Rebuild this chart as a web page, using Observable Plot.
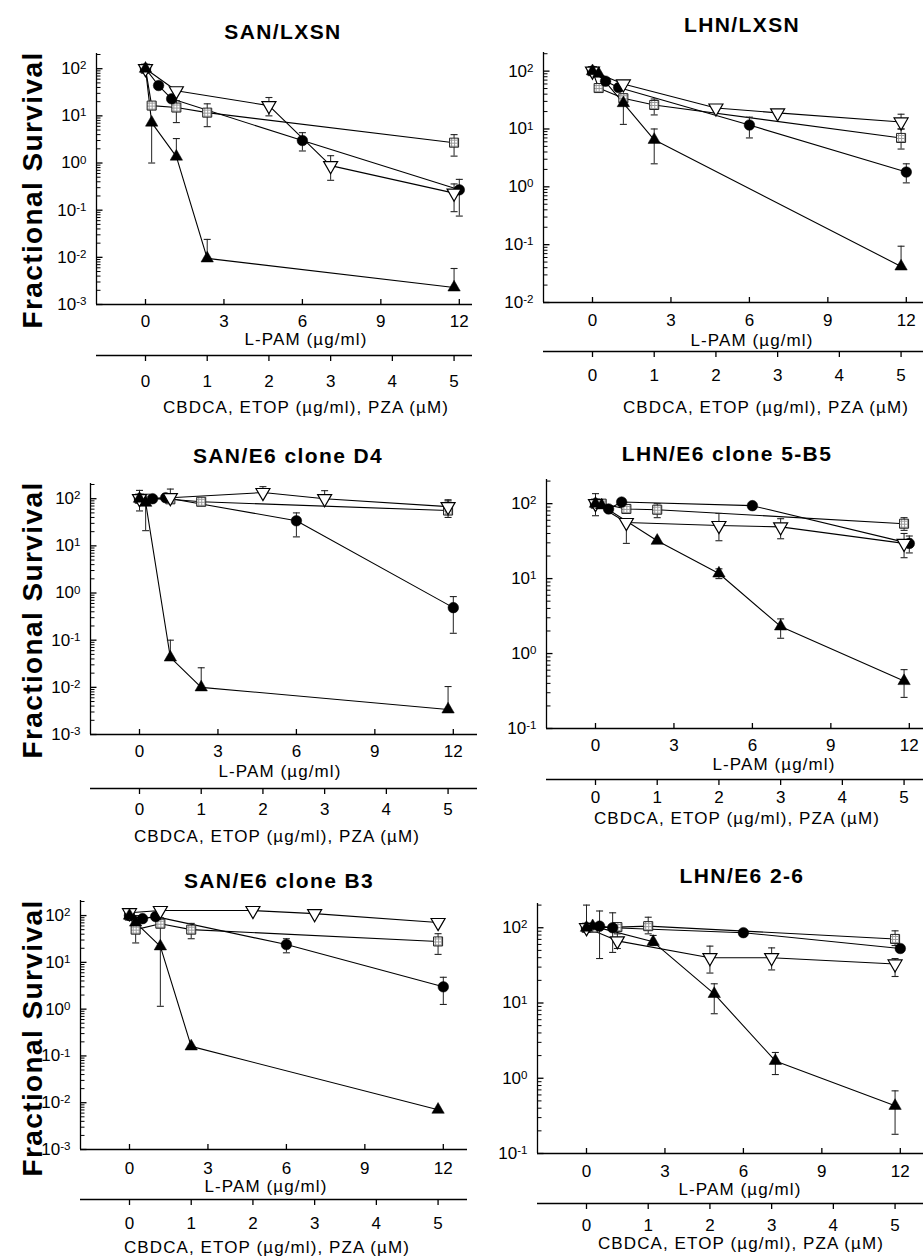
<!DOCTYPE html>
<html>
<head>
<meta charset="utf-8">
<script src="https://cdn.jsdelivr.net/npm/d3@7"></script>
<script src="https://cdn.jsdelivr.net/npm/@observablehq/plot@0.6"></script>
<style>
  body { margin: 0; background: #fff; }
  #fig { position: relative; width: 923px; height: 1260px; overflow: hidden; background: #fff;
         font-family: "Liberation Sans", Arial, Helvetica, sans-serif; color: #000; }
  #fig svg { position: absolute; overflow: visible; }
  .ptitle { position: absolute; font-weight: bold; font-size: 21px; letter-spacing: 1.4px;
            transform: translate(-50%, -50%); white-space: nowrap; line-height: 1; }
  .ylab { position: absolute; font-weight: bold; font-size: 28px; letter-spacing: 1.4px;
          transform: translate(-50%, -50%) rotate(-90deg); white-space: nowrap; line-height: 1; }
  .xlab { position: absolute; font-size: 17px; letter-spacing: 1.1px;
          transform: translate(-50%, -50%); white-space: nowrap; line-height: 1; }
</style>
</head>
<body>
<svg width="0" height="0" style="position:absolute">
  <defs>
    <pattern id="stipple" width="3" height="3" patternUnits="userSpaceOnUse">
      <rect width="3" height="3" fill="#fff"></rect>
      <path d="M0 0.5H3M0.5 0V3" stroke="#9a9a9a" stroke-width="1"></path>
    </pattern>
  </defs>
</svg>
<div id="fig"></div>
<script>
// ---------------- text ----------------
const panelTitles = ["SAN/LXSN", "LHN/LXSN", "SAN/E6 clone D4", "LHN/E6 clone 5-B5", "SAN/E6 clone B3", "LHN/E6 2-6"];
const yAxisTitle = "Fractional Survival";
const lpamAxisTitle = "L-PAM (µg/ml)";
const cbdcaAxisTitle = "CBDCA, ETOP (µg/ml), PZA (µM)";
const lpamTicks = [0, 3, 6, 9, 12];
const cbdcaTicks = [0, 1, 2, 3, 4, 5];
const seriesNames = ["L-PAM", "CBDCA", "ETOP", "PZA"];

// ---------------- data: [dose, % survival, error low, error high] ----------------
// L-PAM doses are in µg/ml (top axis); CBDCA, ETOP in µg/ml and PZA in µM (lower axis)
const sanLxsnLpam  = [[0, 100], [0.5, 44], [1, 23], [6, 3.0, 1.8, 4.4], [12, 0.27, 0.075, 0.45]];
const sanLxsnCbdca = [[0, 100], [0.1, 16.5], [0.5, 15, 7.2, 21], [1, 11.7, 5.9, 18], [5, 2.7, 1.4, 4]];
const sanLxsnEtop  = [[0, 100], [0.5, 34], [2, 16.5, 10, 24.5], [3, 0.88, 0.43, 1.43], [5, 0.23, 0.093, 0.36]];
const sanLxsnPza   = [[0, 100], [0.1, 7.2, 1.0, null], [0.5, 1.37, null, 3.3], [1, 0.0095, null, 0.024], [5, 0.0023, null, 0.0058]];

const lhnLxsnLpam  = [[0, 100], [0.5, 67], [1, 52], [6, 11.7, 7, 16], [12, 1.8, 1.17, 2.5]];
const lhnLxsnCbdca = [[0, 100], [0.1, 51], [0.5, 34], [1, 26, 17.5, 33], [5, 7.0, 4.5, 10]];
const lhnLxsnEtop  = [[0, 100], [0.5, 60], [2, 23, null, 26], [3, 19], [5, 13.2, 10, 18]];
const lhnLxsnPza   = [[0, 100], [0.1, 90], [0.5, 28, 12, 40], [1, 6.5, 2.5, 10], [5, 0.042, null, 0.094]];

const sanD4Lpam  = [[0, 100], [0.5, 100], [1, 105], [6, 34, 15.5, 50], [12, 0.49, 0.14, 0.84]];
const sanD4Cbdca = [[0, 100], [0.1, 100], [0.5, 97, null, 160], [1, 86], [5, 56, 40, 90]];
const sanD4Etop  = [[0, 100], [0.5, 105], [2, 135, null, 180], [3, 100, null, 148], [5, 68, null, 95]];
const sanD4Pza   = [[0, 100, 55, 150], [0.1, 82, 21, null], [0.5, 0.043, null, 0.1], [1, 0.01, null, 0.026], [5, 0.0034, null, 0.0104]];

const lhn5B5Lpam  = [[0, 100], [0.5, 85], [1, 105], [6, 94], [12, 29.5, 22, 37]];
const lhn5B5Cbdca = [[0, 100], [0.1, 100], [0.5, 85], [1, 83, 65, 100], [5, 54, 44, 65]];
const lhn5B5Etop  = [[0, 100], [0.5, 56, 29.5, null], [2, 51, 32, 74], [3, 49, 34, 63], [5, 29.5, 19, 40]];
const lhn5B5Pza   = [[0, 100, 69, 136], [0.1, 95], [1, 32], [2, 11.7, 10, 13.5], [3, 2.3, 1.6, 2.9], [5, 0.43, 0.26, 0.61]];

const sanB3Lpam  = [[0, 100], [0.5, 86], [1, 95], [6, 24, 16, 32], [12, 3.0, 1.26, 4.8]];
const sanB3Cbdca = [[0, 100], [0.1, 50, 26, 100], [0.5, 67], [1, 50, 32, 68], [5, 28, 14.8, 41]];
const sanB3Etop  = [[0, 115], [0.5, 128], [2, 128], [3, 110], [5, 71]];
const sanB3Pza   = [[0, 100], [0.1, 71], [0.5, 22, 1.15, 90], [1, 0.16], [5, 0.0071]];

const lhn26Lpam  = [[0, 100], [0.5, 105, 39, 167], [1, 100, 47, 158], [6, 86], [12, 53]];
const lhn26Cbdca = [[0, 100, null, 200], [0.1, 100], [0.5, 102], [1, 105, 83, 138], [5, 71, 58, 91]];
const lhn26Etop  = [[0, 100], [0.5, 67, 53, 83], [2, 40, 25, 57], [3, 40, 27.5, 54], [5, 33, 22.5, 39]];
const lhn26Pza   = [[0, 100], [0.1, 105], [1.08, 65, 58, 79], [2.07, 13.2, 7.2, 18], [3.06, 1.7, 1.12, 2.2], [5, 0.43, 0.18, 0.68]];

const panelSeries = [
  [sanLxsnLpam, sanLxsnCbdca, sanLxsnEtop, sanLxsnPza],
  [lhnLxsnLpam, lhnLxsnCbdca, lhnLxsnEtop, lhnLxsnPza],
  [sanD4Lpam, sanD4Cbdca, sanD4Etop, sanD4Pza],
  [lhn5B5Lpam, lhn5B5Cbdca, lhn5B5Etop, lhn5B5Pza],
  [sanB3Lpam, sanB3Cbdca, sanB3Etop, sanB3Pza],
  [lhn26Lpam, lhn26Cbdca, lhn26Etop, lhn26Pza]
];
const panelYMin = [1e-3, 1e-2, 1e-3, 1e-1, 1e-3, 1e-1];

// ---------------- layout (pixels) ----------------
const FONT = '"Liberation Sans", Arial, Helvetica, sans-serif';
const Y_MAX = 210;
const PXU = 26.15;          // px per L-PAM unit
const X0_OFF = 49;          // px from y-axis line to L-PAM 0
const K = 2.36;             // L-PAM units spanned by one unit of the lower axis
const layout = [
  {left: 96,  top: 53,  right: 472, bottom: 304,  tx: 283, ty: 31,  tickDy: 17, secLine: 51, secTickDy: 26,
   lpamX: 306, lpamY: 339, cbX: 306, cbY: 407},
  {left: 543, top: 52,  right: 923, bottom: 302,  tx: 742, ty: 24,  tickDy: 18, secLine: 49, secTickDy: 24,
   lpamX: 752, lpamY: 340, cbX: 766, cbY: 407},
  {left: 90,  top: 483, right: 477, bottom: 734,  tx: 288, ty: 455, tickDy: 17, secLine: 54, secTickDy: 21,
   lpamX: 280, lpamY: 771, cbX: 277, cbY: 836},
  {left: 546, top: 479, right: 923, bottom: 728,  tx: 727, ty: 453, tickDy: 17, secLine: 51, secTickDy: 18,
   lpamX: 774, lpamY: 764, cbX: 737, cbY: 818},
  {left: 80,  top: 900, right: 467, bottom: 1149, tx: 279, ty: 880, tickDy: 19, secLine: 50, secTickDy: 24,
   lpamX: 266, lpamY: 1186, cbX: 267, cbY: 1247},
  {left: 537, top: 903, right: 923, bottom: 1153, tx: 742, ty: 875, tickDy: 18, secLine: 50, secTickDy: 22,
   lpamX: 740, lpamY: 1189, cbX: 741, cbY: 1243}
];
const yLabelPos = [{x: 33, y: 190}, {x: 33, y: 620}, {x: 33, y: 1038}];

// ---------------- symbols ----------------
const SQ3 = Math.sqrt(3);
const invTriangle = {draw(ctx, size) {
  const y = Math.sqrt(size / (SQ3 * 3));
  ctx.moveTo(0, 2 * y); ctx.lineTo(SQ3 * y, -y); ctx.lineTo(-SQ3 * y, -y); ctx.closePath();
}};
const capLine = {draw(ctx, size) {
  const r = Math.sqrt(size / Math.PI);
  ctx.moveTo(-r, 0); ctx.lineTo(r, 0);
}};

const fig = document.getElementById("fig");

function addDiv(cls, text, x, y) {
  const d = document.createElement("div");
  d.className = cls; d.textContent = text;
  d.style.left = x + "px"; d.style.top = y + "px";
  fig.appendChild(d);
}

function place(svg, left, top) {
  svg.style.position = "absolute";
  svg.style.left = left + "px";
  svg.style.top = top + "px";
  svg.style.maxWidth = "none";
  svg.style.background = "transparent";
  fig.appendChild(svg);
}

function superscriptLabels(svg) {
  d3.select(svg).selectAll('[aria-label="y-axis tick label"] text').each(function () {
    const [base, ex] = this.textContent.split("^");
    this.textContent = base;
    d3.select(this).append("tspan").attr("dy", "-0.42em").attr("font-size", "0.68em").text(ex);
  });
}

const TICK_FS = 17;
const capMid = 0.36 * TICK_FS;   // from top of digits to their middle

panelSeries.forEach((series, i) => {
  const L = layout[i];
  const yMin = panelYMin[i];
  const fw = L.right - L.left, fh = L.bottom - L.top;
  const xmin = -X0_OFF / PXU, xmax = xmin + fw / PXU;
  const decPx = fh / (Math.log10(Y_MAX) - Math.log10(yMin));
  const ml = 52, mr = 0, mt = 6, mb = 40;

  // table built from the named arrays
  const rows = [];
  series.forEach((list, s) => {
    const scale = s === 0 ? 1 : K;
    list.forEach(([dose, v, lo, hi]) => rows.push({series: seriesNames[s], x: dose * scale, y: v, lo: lo ?? null, hi: hi ?? null}));
  });
  const errRows = rows.filter(d => d.lo != null || d.hi != null);
  const capRows = [];
  errRows.forEach(d => {
    if (d.lo != null) capRows.push({x: d.x, y: d.lo});
    if (d.hi != null) capRows.push({x: d.x, y: d.hi});
  });

  const decades = d3.range(Math.round(Math.log10(yMin)), 3).map(e => Math.pow(10, e)).filter(v => v <= Y_MAX);
  const minors = [];
  decades.forEach(d => { for (let m = 2; m <= 9; m++) if (d * m <= Y_MAX) minors.push(d * m); });

  const bySeries = name => rows.filter(d => d.series === name);

  const main = Plot.plot({
    width: ml + fw + mr, height: mt + fh + mb,
    marginLeft: ml, marginRight: mr, marginTop: mt, marginBottom: mb,
    x: {domain: [xmin, xmax]},
    y: {type: "log", domain: [yMin, Y_MAX]},
    style: {fontFamily: FONT, fontSize: TICK_FS + "px", color: "#000", background: "transparent", overflow: "visible"},
    marks: [
      // axis lines
      Plot.ruleY([yMin], {stroke: "#000", strokeWidth: 1.3}),
      Plot.ruleX([xmin], {stroke: "#000", strokeWidth: 1.3}),
      // y ticks (inward)
      Plot.ruleY(minors, {x1: xmin, x2: xmin + 4.5 / PXU, stroke: "#000", strokeWidth: 1}),
      Plot.ruleY(decades, {x1: xmin, x2: xmin + 6.5 / PXU, stroke: "#000", strokeWidth: 1.3}),
      // x ticks (inward)
      Plot.ruleX(lpamTicks, {y1: yMin, y2: yMin * Math.pow(10, 5 / decPx), stroke: "#000", strokeWidth: 1.3}),
      Plot.axisY({anchor: "left", ticks: decades, tickSize: 0, tickPadding: 10, fontSize: TICK_FS,
        tickFormat: d => "10^" + Math.round(Math.log10(d)), label: null}),
      Plot.axisX({anchor: "bottom", ticks: lpamTicks, tickSize: 0, tickPadding: L.tickDy - capMid, fontSize: TICK_FS,
        tickFormat: d => String(d), label: null}),
      // connecting lines
      Plot.line(rows, {x: "x", y: "y", z: "series", stroke: "#000", strokeWidth: 1.1}),
      // error bars
      Plot.ruleX(errRows, {x: "x", y1: d => d.lo ?? d.y, y2: d => d.hi ?? d.y, stroke: "#222", strokeWidth: 1}),
      Plot.dot(capRows, {x: "x", y: "y", symbol: capLine, r: 3.5, stroke: "#222", fill: "none", strokeWidth: 1.1}),
      // markers
      Plot.dot(bySeries("CBDCA"), {x: "x", y: "y", symbol: "square", r: 5.1, fill: "url(#stipple)", stroke: "#222", strokeWidth: 1}),
      Plot.dot(bySeries("L-PAM"), {x: "x", y: "y", symbol: "circle", r: 5.3, fill: "#000", stroke: "#000", strokeWidth: 0.5}),
      Plot.dot(bySeries("ETOP"), {x: "x", y: "y", symbol: invTriangle, r: 5.2, fill: "#fff", stroke: "#000", strokeWidth: 1.2}),
      Plot.dot(bySeries("PZA"), {x: "x", y: "y", symbol: "triangle", r: 4.6, fill: "#000", stroke: "#000", strokeWidth: 0.5})
    ]
  });
  superscriptLabels(main);
  place(main, L.left - ml, L.top - mt);

  // lower axis: CBDCA, ETOP (µg/ml), PZA (µM), sharing the same pixel range
  const smb = 40;
  const sec = Plot.plot({
    width: ml + fw + mr, height: 1 + smb,
    marginLeft: ml, marginRight: mr, marginTop: 0, marginBottom: smb,
    x: {domain: [xmin / K, xmax / K]},
    y: {domain: [0, 1], axis: null},
    style: {fontFamily: FONT, fontSize: TICK_FS + "px", color: "#000", background: "transparent", overflow: "visible"},
    marks: [
      Plot.ruleY([0], {stroke: "#000", strokeWidth: 1.3}),
      Plot.axisX({anchor: "bottom", ticks: cbdcaTicks, tickSize: 6, tickPadding: L.secTickDy - 6 - capMid, fontSize: TICK_FS,
        strokeWidth: 1.3, tickFormat: d => String(d), label: null})
    ]
  });
  place(sec, L.left - ml, L.bottom + L.secLine - 1);

  addDiv("ptitle", panelTitles[i], L.tx, L.ty);
  addDiv("xlab", lpamAxisTitle, L.lpamX, L.lpamY);
  addDiv("xlab", cbdcaAxisTitle, L.cbX, L.cbY);
});

yLabelPos.forEach(p => addDiv("ylab", yAxisTitle, p.x, p.y));
</script>
</body>
</html>
